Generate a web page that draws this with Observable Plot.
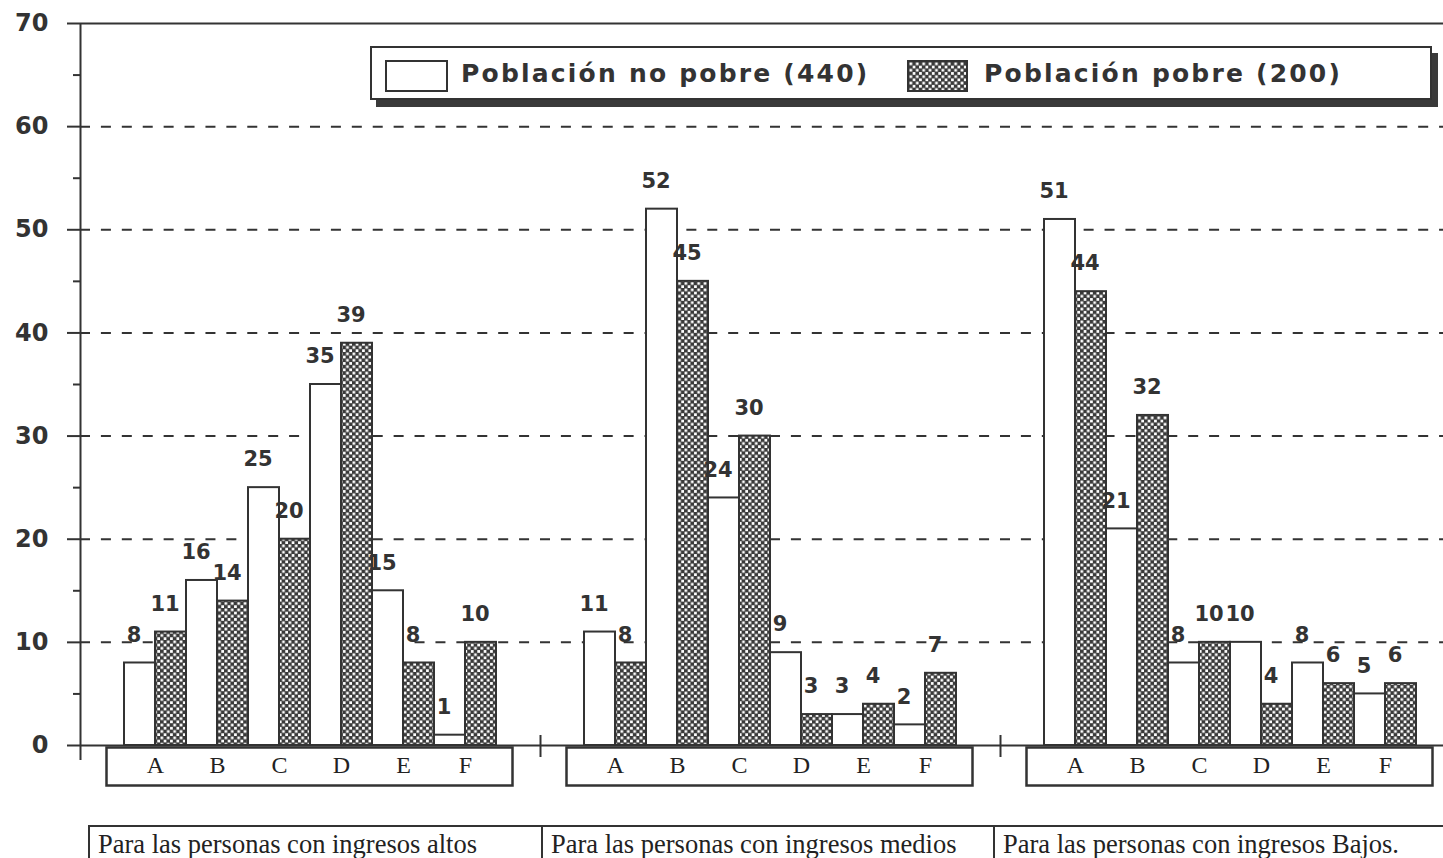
<!DOCTYPE html>
<html>
<head>
<meta charset="utf-8">
<script src="https://cdn.jsdelivr.net/npm/d3@7"></script>
<script src="https://cdn.jsdelivr.net/npm/@observablehq/plot@0.6"></script>
<style>
  html, body { margin: 0; padding: 0; background: #fff; overflow: hidden; }
  #wrap { position: relative; width: 1443px; height: 858px; overflow: hidden; }
  #legend { position: absolute; left: 370px; top: 46px; width: 1058px; height: 50px;
            border: 2px solid #333; box-shadow: 6px 7px 0 #3a3a3a; background: #fff; }
  .sw { position: absolute; top: 12px; height: 28px; border: 2px solid #333; box-sizing: content-box; }
  .lt { position: absolute; top: 0; height: 50px; line-height: 52px; font-family: "DejaVu Sans", sans-serif;
        font-weight: bold; font-size: 25px; letter-spacing: 2.2px; color: #333; white-space: nowrap; }
  .cap { position: absolute; top: 825px; height: 40px; border: 2px solid #333; border-bottom: none;
         font-family: "Liberation Serif", "Times New Roman", serif; font-size: 26.5px; color: #222;
         line-height: 34px; padding-left: 8px; box-sizing: border-box; white-space: nowrap; }
</style>
</head>
<body>
<div id="wrap">
  <svg width="0" height="0" style="position:absolute">
    <defs>
      <pattern id="checker" patternUnits="userSpaceOnUse" width="6.4" height="6.4">
        <rect width="6.4" height="6.4" fill="#3a3a3a"></rect>
        <rect x="0.5" y="0.5" width="2.7" height="2.7" fill="#fff"></rect>
        <rect x="3.7" y="3.7" width="2.7" height="2.7" fill="#fff"></rect>
      </pattern>
    </defs>
  </svg>
  <div id="chart"></div>
  <div id="legend"></div>
  <div id="captions"></div>
</div>
<script>
// ---- data ----
const groupKeys = ["altos", "medios", "bajos"];
const groupCaptions = [
  "Para las personas con ingresos altos",
  "Para las personas con ingresos medios",
  "Para las personas con ingresos Bajos."
];
const categories = ["A", "B", "C", "D", "E", "F"];
const seriesNames = ["Población no pobre (440)", "Población pobre (200)"];
const noPobreAltos  = [8, 16, 25, 35, 15, 1];
const pobreAltos    = [11, 14, 20, 39, 8, 10];
const noPobreMedios = [11, 52, 24, 9, 3, 2];
const pobreMedios   = [8, 45, 30, 3, 4, 7];
const noPobreBajos  = [51, 21, 8, 10, 8, 5];
const pobreBajos    = [44, 32, 10, 4, 6, 6];
const yTicks = [0, 10, 20, 30, 40, 50, 60, 70];
const gridTicks = [10, 20, 30, 40, 50, 60];
const minorTicks = [5, 15, 25, 35, 45, 55, 65];

// ---- build table ----
const noPobre = [noPobreAltos, noPobreMedios, noPobreBajos];
const pobre = [pobreAltos, pobreMedios, pobreBajos];
const rows = [];
groupKeys.forEach((g, gi) => categories.forEach((c, ci) => {
  rows.push({group: g, cat: c, series: seriesNames[0], value: noPobre[gi][ci]});
  rows.push({group: g, cat: c, series: seriesNames[1], value: pobre[gi][ci]});
}));
const rowsNo = rows.filter(d => d.series === seriesNames[0]);
const rowsSi = rows.filter(d => d.series === seriesNames[1]);
const catRows = rowsNo.map(d => ({group: d.group, cat: d.cat}));

// ---- layout constants (pixels) ----
const INK = "#333";
const CELL = 460, STEP = 62, OUTER = 44;
const HALF = STEP / 2, QUARTER = STEP / 4;

const chart = Plot.plot({
  width: 1443,
  height: 820,
  marginTop: 23,
  marginBottom: 75,
  marginLeft: 80,
  marginRight: 0,
  style: {background: "transparent", color: INK, overflow: "visible"},
  fx: {domain: groupKeys, range: [80, 80 + 3 * CELL], padding: 0, round: false, axis: null},
  x: {domain: categories, paddingInner: 0, paddingOuter: OUTER / STEP, round: false, axis: null},
  y: {domain: [0, 70], axis: null},
  marks: [
    Plot.ruleY(gridTicks, {stroke: INK, strokeWidth: 2, strokeDasharray: "10,10.909"}),
    Plot.ruleY([70], {stroke: INK, strokeWidth: 2}),
    Plot.barY(rowsNo, {fx: "group", x: "cat", y: "value", fill: "white", stroke: INK, strokeWidth: 2, insetRight: HALF}),
    Plot.barY(rowsSi, {fx: "group", x: "cat", y: "value", fill: "url(#checker)", stroke: INK, strokeWidth: 2, insetLeft: HALF}),
    Plot.ruleY([0], {stroke: INK, strokeWidth: 2}),
    Plot.ruleX([groupKeys[0]], {fx: d => d, x: () => "A", dx: -(OUTER + HALF), stroke: INK, strokeWidth: 2, insetBottom: -15}),
    Plot.ruleX(groupKeys.slice(1), {fx: d => d, x: () => "A", dx: -(OUTER + HALF), y1: () => 0, y2: () => 0,
      insetTop: -10, insetBottom: -12, stroke: INK, strokeWidth: 2}),
    Plot.axisY({ticks: yTicks, tickSize: 13, tickPadding: 19, stroke: INK, strokeWidth: 2, fill: INK,
      fontSize: 24, fontWeight: "bold", fontFamily: "DejaVu Sans", label: null, tickFormat: d => String(d)}),
    Plot.axisY({ticks: minorTicks, tickSize: 7, stroke: INK, strokeWidth: 2, label: null, tickFormat: () => ""}),
    Plot.text(rowsNo, {fx: "group", x: "cat", y: "value", text: "value", dx: -QUARTER - 6, dy: -28,
      fontFamily: "DejaVu Sans", fontWeight: "bold", fontSize: 21, fill: INK}),
    Plot.text(rowsSi, {fx: "group", x: "cat", y: "value", text: "value", dx: QUARTER - 6, dy: -28,
      fontFamily: "DejaVu Sans", fontWeight: "bold", fontSize: 21, fill: INK}),
    Plot.frame({insetTop: 724, insetBottom: -40, insetLeft: 26, insetRight: 28, stroke: INK, strokeWidth: 2.5}),
    Plot.text(catRows, {fx: "group", x: "cat", text: "cat", frameAnchor: "bottom", dy: 27,
      fontFamily: "Liberation Serif", fontSize: 24, fill: "#222"})
  ]
});
document.getElementById("chart").appendChild(chart);

// ---- legend ----
const legend = document.getElementById("legend");
const legendItems = [
  {name: seriesNames[0], swLeft: 13, swWidth: 59, fill: "#fff", textLeft: 89},
  {name: seriesNames[1], swLeft: 535, swWidth: 57, fill: "url(#checker)", textLeft: 612}
];
legendItems.forEach(it => {
  const sw = document.createElement("div");
  sw.className = "sw";
  sw.style.left = it.swLeft + "px";
  sw.style.width = it.swWidth + "px";
  if (it.fill === "#fff") sw.style.background = "#fff";
  else {
    sw.innerHTML = `<svg width="${it.swWidth}" height="28" style="display:block"><rect width="${it.swWidth}" height="28" fill="url(#checker)"/></svg>`;
  }
  legend.appendChild(sw);
  const t = document.createElement("div");
  t.className = "lt";
  t.style.left = it.textLeft + "px";
  t.textContent = it.name;
  legend.appendChild(t);
});

// ---- captions ----
const caps = document.getElementById("captions");
const capLefts = [88, 541, 993];
const capWidths = [455, 454, 452];
groupCaptions.forEach((c, i) => {
  const d = document.createElement("div");
  d.className = "cap";
  d.style.left = capLefts[i] + "px";
  d.style.width = capWidths[i] + "px";
  d.textContent = c;
  caps.appendChild(d);
});
</script>
</body>
</html>
